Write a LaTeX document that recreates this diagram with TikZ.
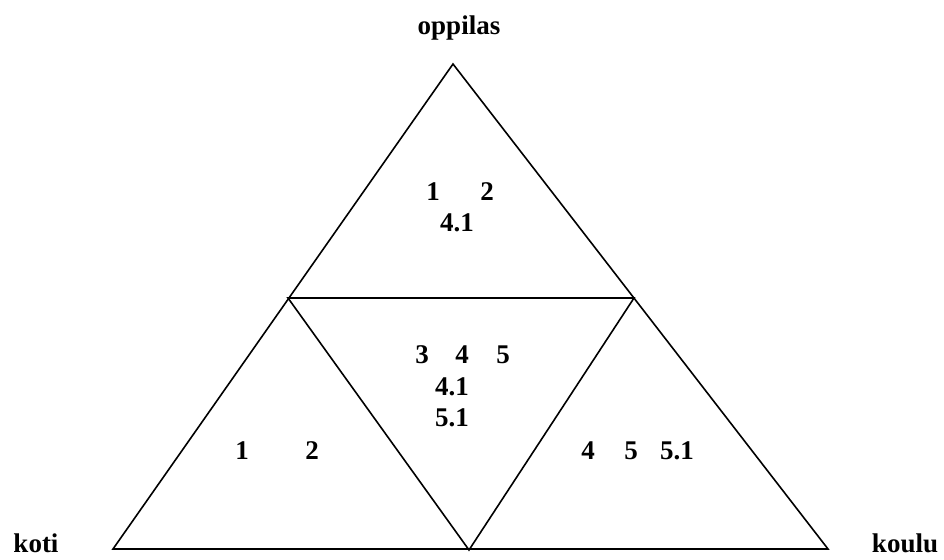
\documentclass[tikz,border=0pt]{standalone}
\usepackage{fontspec}
\setmainfont{Liberation Serif}
\usetikzlibrary{positioning}
\tikzset{
  edge/.style={
    draw,
    line width=1.6pt,
    line join=miter
  },
  corner/.style={
    font=\fontsize{27}{31}\selectfont\bfseries,
    inner sep=0pt
  },
  num/.style={
    font=\fontsize{27}{31}\selectfont\bfseries,
    inner sep=0pt
  }
}

\begin{document}
\begin{tikzpicture}[x=1pt,y=-1pt]
\useasboundingbox (0,0) rectangle (944,559);

% --- Vertices ---
\coordinate (top) at (453,64);
\coordinate (bl) at (113,549);
\coordinate (br) at (828,549);
\coordinate (ml) at (288,298);
\coordinate (mr) at (634,298);
\coordinate (mb) at (469,550);

% --- Outer and inner triangle ---
\draw[edge] (top) -- (bl) -- (br) -- cycle;
\draw[edge] (ml) -- (mr) -- (mb) -- cycle;

% --- Corner labels ---
\node[corner] (oppilas) at (459,28) {oppilas};
\node[corner] (koti) at (36,543) {koti};
\node[corner] (koulu) at (905,543) {koulu};

% --- Top part ---
\node[num] (t1) at (433,192) {1};
\node[num] (t2) at (487,192) {2};
\node[num] (t41) at (457,223) {4.1};

% --- Middle part ---
\node[num] (m3) at (422,355) {3};
\node[num] (m4) at (462,355) {4};
\node[num] (m5) at (503,355) {5};
\node[num] (m41) at (452,387) {4.1};
\node[num] (m51) at (452,418) {5.1};

% --- Left part ---
\node[num] (l1) at (242,451) {1};
\node[num] (l2) at (312,451) {2};

% --- Right part ---
\node[num] (r4) at (588,451) {4};
\node[num] (r5) at (631,451) {5};
\node[num] (r51) at (677,451) {5.1};

\end{tikzpicture}
\end{document}
